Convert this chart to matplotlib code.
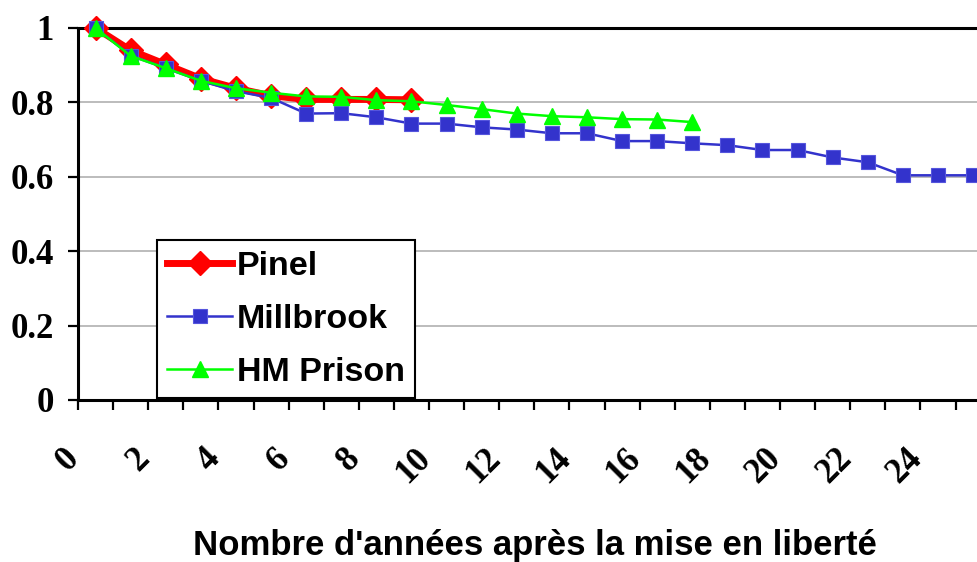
import matplotlib
matplotlib.use('Agg')
import matplotlib.pyplot as plt
from matplotlib.transforms import ScaledTranslation

years = [0.5, 1.5, 2.5, 3.5, 4.5, 5.5, 6.5, 7.5, 8.5, 9.5, 10.5, 11.5, 12.5,
         13.5, 14.5, 15.5, 16.5, 17.5, 18.5, 19.5, 20.5, 21.5, 22.5, 23.5,
         24.5, 25.5]

pinel = [1.0, 0.940, 0.902, 0.864, 0.838, 0.818, 0.808, 0.808, 0.808, 0.807]
millbrook = [1.0, 0.926, 0.892, 0.858, 0.830, 0.812, 0.770, 0.771, 0.760,
             0.743, 0.743, 0.733, 0.727, 0.717, 0.717, 0.696, 0.696, 0.690,
             0.685, 0.672, 0.672, 0.652, 0.639, 0.604, 0.604, 0.604]
hm_prison = [1.0, 0.925, 0.892, 0.858, 0.838, 0.826, 0.816, 0.815, 0.806,
             0.803, 0.793, 0.782, 0.770, 0.763, 0.760, 0.755, 0.754, 0.747]

x_ticks = [0, 2, 4, 6, 8, 10, 12, 14, 16, 18, 20, 22, 24]
y_ticks = [0, 0.2, 0.4, 0.6, 0.8, 1]
y_labels = ['0', '0.2', '0.4', '0.6', '0.8', '1']

fig = plt.figure(figsize=(9.78, 5.62), dpi=100)
ax = fig.add_axes([78/978, 1-400/562, 900/978, 372/562])

ax.plot(years[:len(pinel)], pinel, color='#FF0000', lw=5, marker='D',
        ms=12.5, mec='#FF0000', label='Pinel', clip_on=False, zorder=3)
ax.plot(years[:len(millbrook)], millbrook, color='#3333CC', lw=1.8, marker='s',
        ms=10.5, mec='#5555DD', mew=0.8, label='Millbrook', clip_on=False, zorder=4)
ax.plot(years[:len(hm_prison)], hm_prison, color='#00FF00', lw=1.8, marker='^',
        ms=12, mec='#00FF00', label='HM Prison', clip_on=False, zorder=5)

ax.set_xlim(0, 25.64)
ax.set_ylim(0, 1)

ax.set_yticks(y_ticks)
ax.set_yticklabels(y_labels, family='Liberation Serif', weight='bold', fontsize=25)
ax.set_xticks(x_ticks)
ax.set_xticks([t + 1 for t in x_ticks], minor=True)
ax.set_xticklabels([])

# rotated x labels, placed by hand so they sit like the original
offset = ax.get_xaxis_transform() + ScaledTranslation(8/100, -42/100, fig.dpi_scale_trans)
for t in x_ticks:
    ax.text(t, 0, str(t), transform=offset, family='Liberation Serif', weight='bold',
            fontsize=25, rotation=45, ha='right', va='top')

ax.yaxis.grid(True, color='#b0b0b0', lw=1.2, zorder=0)
ax.set_axisbelow(True)

for s in ['left', 'bottom', 'top']:
    ax.spines[s].set_linewidth(2.2)
    ax.spines[s].set_color('black')
ax.spines['right'].set_visible(False)

ax.tick_params(axis='y', direction='out', length=7.5, width=1.6, pad=10)
ax.tick_params(axis='x', which='both', direction='out', length=7.5, width=1.6)

ax.set_xlabel("Nombre d'années après la mise en liberté", family='Liberation Sans',
              weight='bold', fontsize=25)
ax.xaxis.set_label_coords(0.508, -0.39)
ax.xaxis.label.set_va('center')

leg = ax.legend(loc='lower left', bbox_to_anchor=(0.0878, 0.005), borderaxespad=0,
                prop={'family': 'Liberation Sans', 'weight': 'bold', 'size': 24.5},
                handlelength=1.9, handletextpad=0.15, borderpad=0.3,
                labelspacing=0.65, fancybox=False, framealpha=1, edgecolor='black')
leg.get_frame().set_linewidth(1.5)
leg.set_zorder(10)

fig.savefig('out.png', dpi=100)
